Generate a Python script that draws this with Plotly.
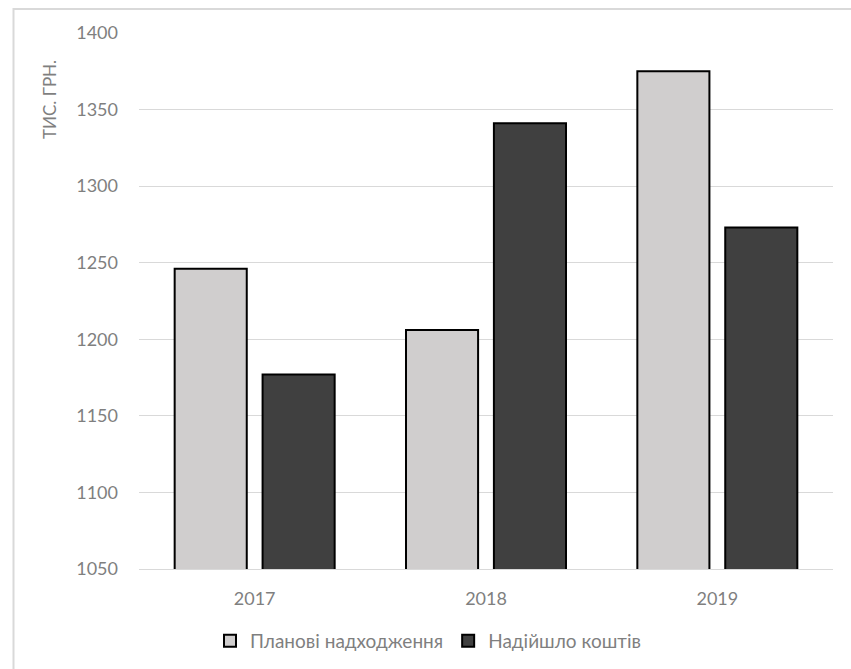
import plotly.graph_objects as go

years = ["2017", "2018", "2019"]
plan_values = [1246, 1206, 1375]
actual_values = [1177, 1341, 1273]
series_names = ["Планові надходження", "Надійшло коштів"]
y_title = "ТИС. ГРН."

W, H = 851, 669
ml, mr, mt, mb = 139, 18, 33, 100

fig = go.Figure()
fig.add_trace(go.Bar(x=years, y=plan_values, name=series_names[0],
                     marker=dict(color="#d0cece", line=dict(color="#000000", width=2))))
fig.add_trace(go.Bar(x=years, y=actual_values, name=series_names[1],
                     marker=dict(color="#404040", line=dict(color="#000000", width=2))))

font_family = "Lato, Carlito, 'Liberation Sans', sans-serif"
fig.update_layout(
    width=W, height=H,
    margin=dict(l=ml, r=mr, t=mt, b=mb, autoexpand=False),
    paper_bgcolor="white", plot_bgcolor="white",
    barmode="group", bargap=0.24, bargroupgap=0.18,
    font=dict(family=font_family, size=18, color="#7f7f7f"),
    showlegend=True,
    legend=dict(orientation="h", x=(210 - ml) / (W - ml - mr), xanchor="left",
                y=-(641 - (H - mb)) / (H - mt - mb), yanchor="middle",
                font=dict(size=19, color="#7f7f7f"), itemwidth=30, traceorder="normal",
                bgcolor="rgba(0,0,0,0)"),
    xaxis=dict(showgrid=False, showline=True, linecolor="#d9d9d9", linewidth=1,
               ticks="", ticklabelstandoff=13, tickfont=dict(size=18, color="#7f7f7f")),
    yaxis=dict(range=[1050, 1400], dtick=50, tick0=1050, showgrid=True, gridcolor="#d9d9d9",
               gridwidth=1, zeroline=False, showline=False, ticks="",
               ticklabelstandoff=20, tickfont=dict(size=18, color="#7f7f7f")),
)

# y-axis title near top-left
fig.add_annotation(text=y_title, xref="paper", yref="paper", textangle=-90,
                   x=-(139 - 49) / (W - ml - mr), y=(H - mb - 100) / (H - mt - mb),
                   xanchor="center", yanchor="middle", showarrow=False,
                   font=dict(size=17, color="#7f7f7f", family=font_family))

# outer chart border (top and left visible)
fig.add_shape(type="rect", xref="paper", yref="paper",
              x0=-(ml - 13.5) / (W - ml - mr), x1=(W + 20 - ml) / (W - ml - mr),
              y0=-(H + 20 - (H - mb)) / (H - mt - mb), y1=(H - mb - 9) / (H - mt - mb),
              line=dict(color="#d9d9d9", width=2), fillcolor="rgba(0,0,0,0)", layer="below")

fig.write_html("out.html")
